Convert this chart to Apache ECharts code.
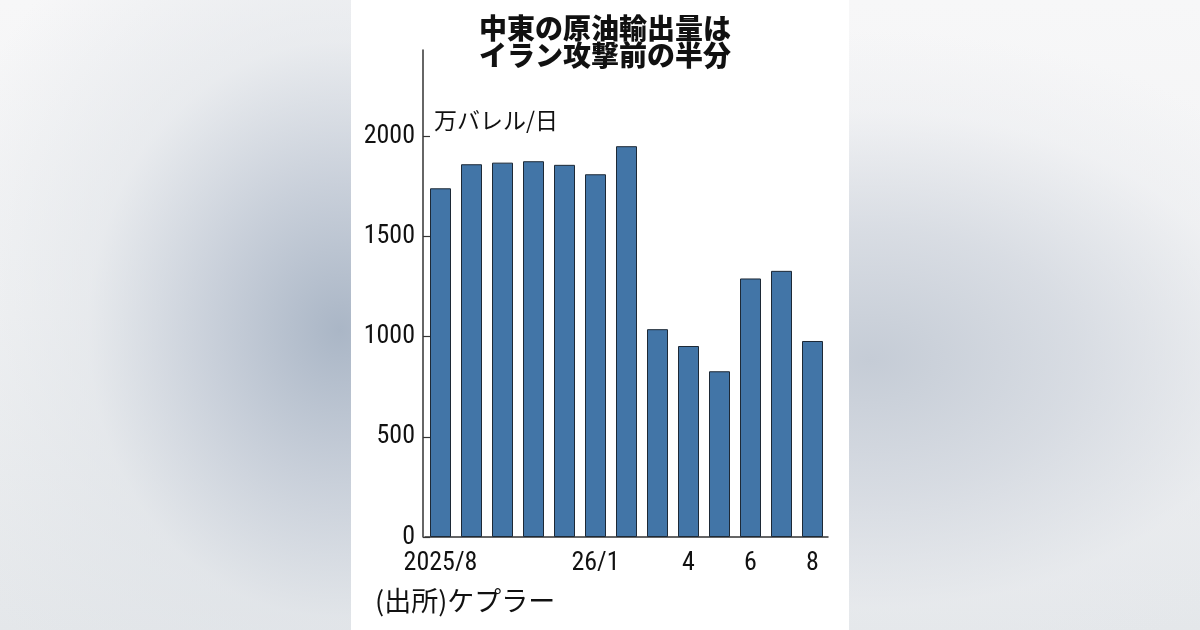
<!DOCTYPE html>
<html>
<head>
<meta charset="utf-8">
<script src="https://cdn.jsdelivr.net/npm/echarts@6/dist/echarts.min.js"></script>
<style>
html,body{margin:0;padding:0;width:1200px;height:630px;overflow:hidden;}
body{
  background:
    radial-gradient(ellipse 420px 480px at 340px 330px, rgba(170,182,198,1) 0%, rgba(193,201,213,0.85) 30%, rgba(222,226,231,0.55) 60%, rgba(244,245,246,0) 100%),
    radial-gradient(ellipse 520px 330px at 870px 360px, rgba(197,204,214,1) 0%, rgba(210,215,223,0.8) 40%, rgba(232,234,238,0.4) 75%, rgba(246,246,247,0) 100%),
    linear-gradient(to bottom, #f7f7f8 0%, #f2f3f4 50%, #e4e7ea 100%);
}
#panel{position:absolute;left:351px;top:0;width:498px;height:630px;background:#ffffff;}
#chart{position:absolute;left:0;top:0;width:1200px;height:630px;}
</style>
</head>
<body>
<div id="panel"></div>
<div id="chart"></div>
<script>
const categories = ['2025/8','2025/9','2025/10','2025/11','2025/12','2026/1','2026/2','2026/3','2026/4','2026/5','2026/6','2026/7','2026/8'];
const tickLabels = ['2025/8','','','','','26/1','','','4','','6','','8'];
const exports_ = [1740, 1860, 1868, 1875, 1857, 1810, 1950, 1037, 953, 827, 1290, 1328, 978];
const yTicks = [0, 500, 1000, 1500, 2000];

const chart = echarts.init(document.getElementById('chart'), null, {renderer:'canvas'});
const numFont = '"Liberation Sans Narrow", "Roboto Condensed", "Noto Sans CJK JP", sans-serif';
const jpFont = '"Noto Sans CJK JP", sans-serif';

chart.setOption({
  backgroundColor: 'transparent',
  animation: false,
  title: {
    text: '中東の原油輸出量は\nイラン攻撃前の半分',
    left: 600, top: 10, textAlign: 'center',
    textStyle: {fontFamily: jpFont, fontWeight: 900, fontSize: 28, lineHeight: 27, color: '#111'}
  },
  grid: {left: 425, top: 50, width: 403, height: 487, containLabel: false},
  xAxis: {
    type: 'category',
    data: categories,
    axisLine: {show: true, lineStyle: {color: '#333', width: 1.5}},
    axisTick: {show: false},
    axisLabel: {
      interval: 0, margin: 13,
      fontFamily: numFont, fontSize: 26, color: '#111',
      formatter: (v, i) => tickLabels[i]
    }
  },
  yAxis: {
    type: 'value',
    min: 0, max: 2430, interval: 500,
    offset: 2,
    splitLine: {show: false},
    axisLine: {show: true, lineStyle: {color: '#333', width: 1.5}},
    axisTick: {show: true, inside: true, length: 7, lineStyle: {color: '#333', width: 1.2}, customValues: yTicks},
    axisLabel: {
      margin: 8, fontFamily: numFont, fontSize: 26, color: '#111',
      customValues: yTicks,
      formatter: v => String(Math.round(Number(v)))
    }
  },
  series: [{
    type: 'bar',
    data: exports_,
    barWidth: 21,
    itemStyle: {color: '#4275a7', borderColor: '#1d2936', borderWidth: 1}
  }],
  graphic: [
    {type: 'text', left: 434, top: 109, style: {text: '万バレル/日', fontFamily: jpFont, fontSize: 23, fill: '#111'}},
    {type: 'text', left: 375, top: 587, style: {text: '(出所)ケプラー', fontFamily: jpFont, fontSize: 27, fill: '#111'}}
  ]
});
</script>
</body>
</html>
